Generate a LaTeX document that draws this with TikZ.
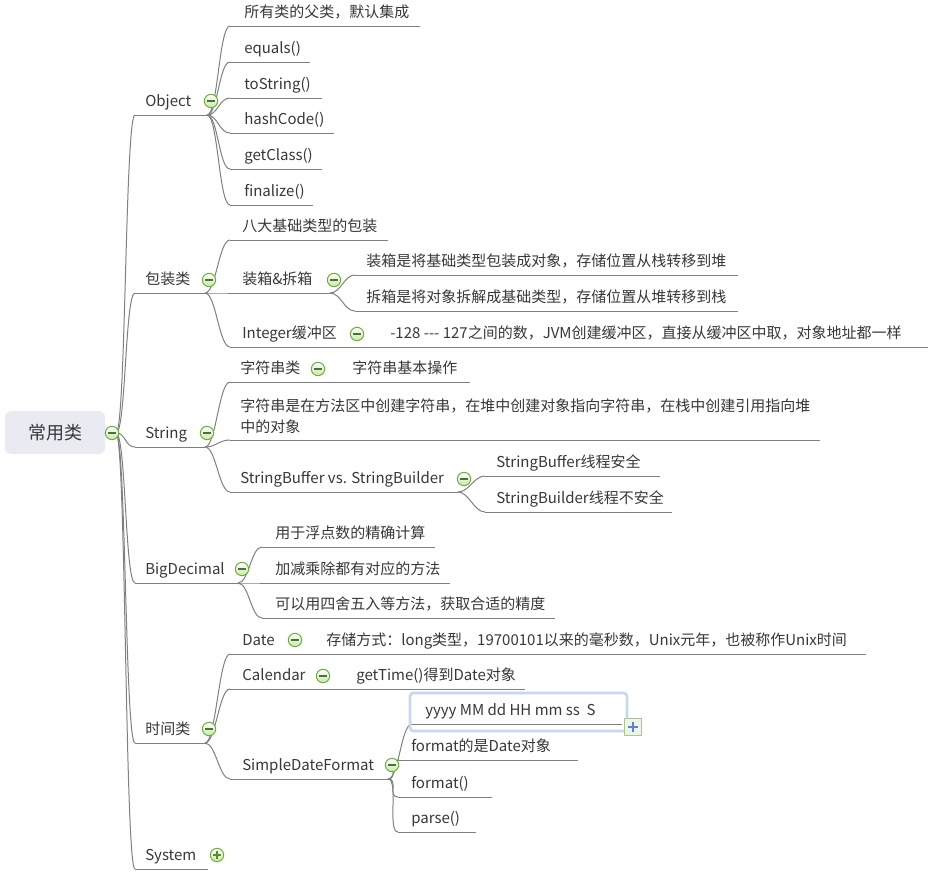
\documentclass[tikz,border=0pt]{standalone}
\usepackage{fontspec}
\setmainfont{Noto Sans CJK SC}
\definecolor{txt}{HTML}{383838}
\definecolor{ln}{HTML}{808080}
\definecolor{icg}{HTML}{6AB034}
\definecolor{icf}{HTML}{C8E8A8}
\definecolor{icm}{HTML}{4E6E3E}
\definecolor{rootf}{HTML}{E9EAF2}
\definecolor{selb}{HTML}{C6D8F0}
\definecolor{plusb}{HTML}{A8C890}
\definecolor{plusf}{HTML}{EEF5E8}
\definecolor{plusm}{HTML}{5A7FE0}
\newcommand\mmfont{\fontsize{11.25pt}{15.75pt}\selectfont}
% name, x start, x end, y underline, x text, text
\newcommand\mmt[6]{%
  \coordinate (#1-s) at (#2,#4);
  \coordinate (#1-e) at (#3,#4);
  \draw[uline] (#1-s) -- (#1-e);
  \node[topic,anchor=base west] (#1) at (#5,#4-9) {#6};
}
\newcommand\mmc[2]{\draw[branch] (#1-e) .. controls +(11,0) and +(-11,0) .. (#2-s);}
\tikzset{
  topic/.style={inner sep=0pt, text=txt, font=\mmfont},
  uline/.style={draw=ln, line width=0.75pt},
  branch/.style={draw=ln, line width=0.75pt},
  collapse/.style={circle, draw=icg, line width=0.75pt, top color=white, bottom color=icf,
    minimum size=10pt, inner sep=0pt,
    path picture={\draw[icm, line width=0.8pt] ([xshift=-2.8pt]path picture bounding box.center) -- ([xshift=2.8pt]path picture bounding box.center);}},
  expand/.style={collapse,
    path picture={\draw[icg!80!black, line width=0.8pt] ([xshift=-2.8pt]path picture bounding box.center) -- ([xshift=2.8pt]path picture bounding box.center)
      ([yshift=-2.8pt]path picture bounding box.center) -- ([yshift=2.8pt]path picture bounding box.center);}},
  rootnode/.style={rectangle, rounded corners=4.5pt, fill=rootf, minimum width=75pt, minimum height=32pt,
    inner sep=0pt, text=txt, font=\fontsize{13.5pt}{16pt}\selectfont},
  selbox/.style={draw=selb, line width=2pt, rounded corners=2.5pt},
  plusbox/.style={rectangle, draw=plusb, fill=plusf, line width=0.7pt, minimum size=13pt, inner sep=0pt,
    path picture={\draw[plusm, line width=2pt] ([xshift=-4pt]path picture bounding box.center) -- ([xshift=4pt]path picture bounding box.center)
      ([yshift=-4pt]path picture bounding box.center) -- ([yshift=4pt]path picture bounding box.center);}},
}
\begin{document}
\begin{tikzpicture}[x=0.75pt,y=-0.75pt]
\useasboundingbox[fill=white] (0,0) rectangle (936,879);

% root
\node[rootnode] (root) at (55,432.5) {常用类};
\coordinate (root-e) at (116,433);

% level 1
\mmt{obj}{135}{207}{115}{145}{Object}
\mmt{bzl}{135}{205}{293}{145}{包装类}
\mmt{str}{135}{205}{447}{145}{String}
\mmt{big}{135}{238}{583}{145}{BigDecimal}
\mmt{time}{135}{205}{743}{145}{时间类}
\mmt{sys}{135}{208}{869}{145}{System}
\foreach \c in {obj,bzl,str,big,time,sys} {\draw[branch] (root-e) .. controls +(10,0) and +(-10,0) .. (\c-s);}

% Object
\mmt{o1}{230}{420}{26}{244}{所有类的父类，默认集成}
\mmt{o2}{230}{310}{62}{244}{equals()}
\mmt{o3}{230}{322}{98}{244}{toString()}
\mmt{o4}{230}{334}{133}{244}{hashCode()}
\mmt{o5}{230}{322}{169}{244}{getClass()}
\mmt{o6}{230}{313}{205}{244}{finalize()}
\foreach \c in {o1,o2,o3,o4,o5,o6} {\mmc{obj}{\c}}

% 包装类
\mmt{b1}{230}{388}{240}{242}{八大基础类型的包装}
\mmt{b2}{230}{330}{293}{242}{装箱\&拆箱}
\mmt{b3}{230}{370}{347}{242}{Integer缓冲区}
\foreach \c in {b1,b2,b3} {\mmc{bzl}{\c}}
\mmt{b21}{355}{738}{275}{366}{装箱是将基础类型包装成对象，存储位置从栈转移到堆}
\mmt{b22}{355}{738}{311}{366}{拆箱是将对象拆解成基础类型，存储位置从堆转移到栈}
\mmc{b2}{b21}
\mmc{b2}{b22}
\mmt{b31}{370}{928}{347}{390}{-128 -\kern0pt-\kern0pt- 127之间的数，JVM创建缓冲区，直接从缓冲区中取，对象地址都一样}
\mmc{b3}{b31}

% String
\mmt{s1}{230}{330}{382}{240}{字符串类}
\mmt{s11}{330}{470}{382}{352}{字符串基本操作}
\mmc{s1}{s11}
\coordinate (s2-s) at (230,440);
\coordinate (s2-e) at (820,440);
\draw[uline] (s2-s) -- (s2-e);
\node[topic,anchor=base west,align=left] (s2) at (240,432) {字符串是在方法区中创建字符串，在堆中创建对象指向字符串，在栈中创建引用指向堆\\中的对象};
\mmt{s3}{230}{458}{492}{240}{StringBuffer vs. StringBuilder}
\foreach \c in {s1,s2,s3} {\mmc{str}{\c}}
\mmt{s31}{485}{660}{476}{496}{StringBuffer线程安全}
\mmt{s32}{485}{672}{512}{496}{StringBuilder线程不安全}
\mmc{s3}{s31}
\mmc{s3}{s32}

% BigDecimal
\mmt{d1}{262}{435}{547}{275}{用于浮点数的精确计算}
\mmt{d2}{262}{450}{583}{275}{加减乘除都有对应的方法}
\mmt{d3}{262}{555}{618}{275}{可以用四舍五入等方法，获取合适的精度}
\foreach \c in {d1,d2,d3} {\mmc{big}{\c}}

% 时间类
\mmt{t1}{230}{310}{654}{242}{Date}
\mmt{t2}{230}{340}{689}{242}{Calendar}
\mmt{t3}{230}{388}{779}{242}{SimpleDateFormat}
\foreach \c in {t1,t2,t3} {\mmc{time}{\c}}
\mmt{t11}{310}{866}{654}{326}{存储方式：long类型，19700101以来的毫秒数，Unix元年，也被称作Unix时间}
\mmc{t1}{t11}
\mmt{t21}{340}{525}{689}{356}{getTime()得到Date对象}
\mmc{t2}{t21}
\mmt{t31}{412}{622}{724}{425}{yyyy MM dd HH mm ss\ \ S}
\mmt{t32}{398}{578}{760}{411}{format的是Date对象}
\mmt{t33}{398}{492}{797}{411}{format()}
\mmt{t34}{398}{476}{832}{411}{parse()}
\foreach \c in {t31,t32,t33,t34} {\mmc{t3}{\c}}
\draw[selbox] (410,693) rectangle (627,731);
\node[plusbox] (t31p) at (633,727) {};

% collapse / expand icons
\node[collapse] (root-c) at (112,433) {};
\node[collapse] (obj-c) at (211,101) {};
\node[collapse] (bzl-c) at (209,280) {};
\node[collapse] (str-c) at (207,433) {};
\node[collapse] (big-c) at (242,569) {};
\node[collapse] (time-c) at (209,729) {};
\node[expand] (sys-c) at (217,855) {};
\node[collapse] (b2-c) at (334,280) {};
\node[collapse] (b3-c) at (357,334) {};
\node[collapse] (s1-c) at (318,369) {};
\node[collapse] (s3-c) at (464,479) {};
\node[collapse] (t1-c) at (295,640) {};
\node[collapse] (t2-c) at (323,676) {};
\node[collapse] (t3-c) at (392,765) {};
\end{tikzpicture}
\end{document}
